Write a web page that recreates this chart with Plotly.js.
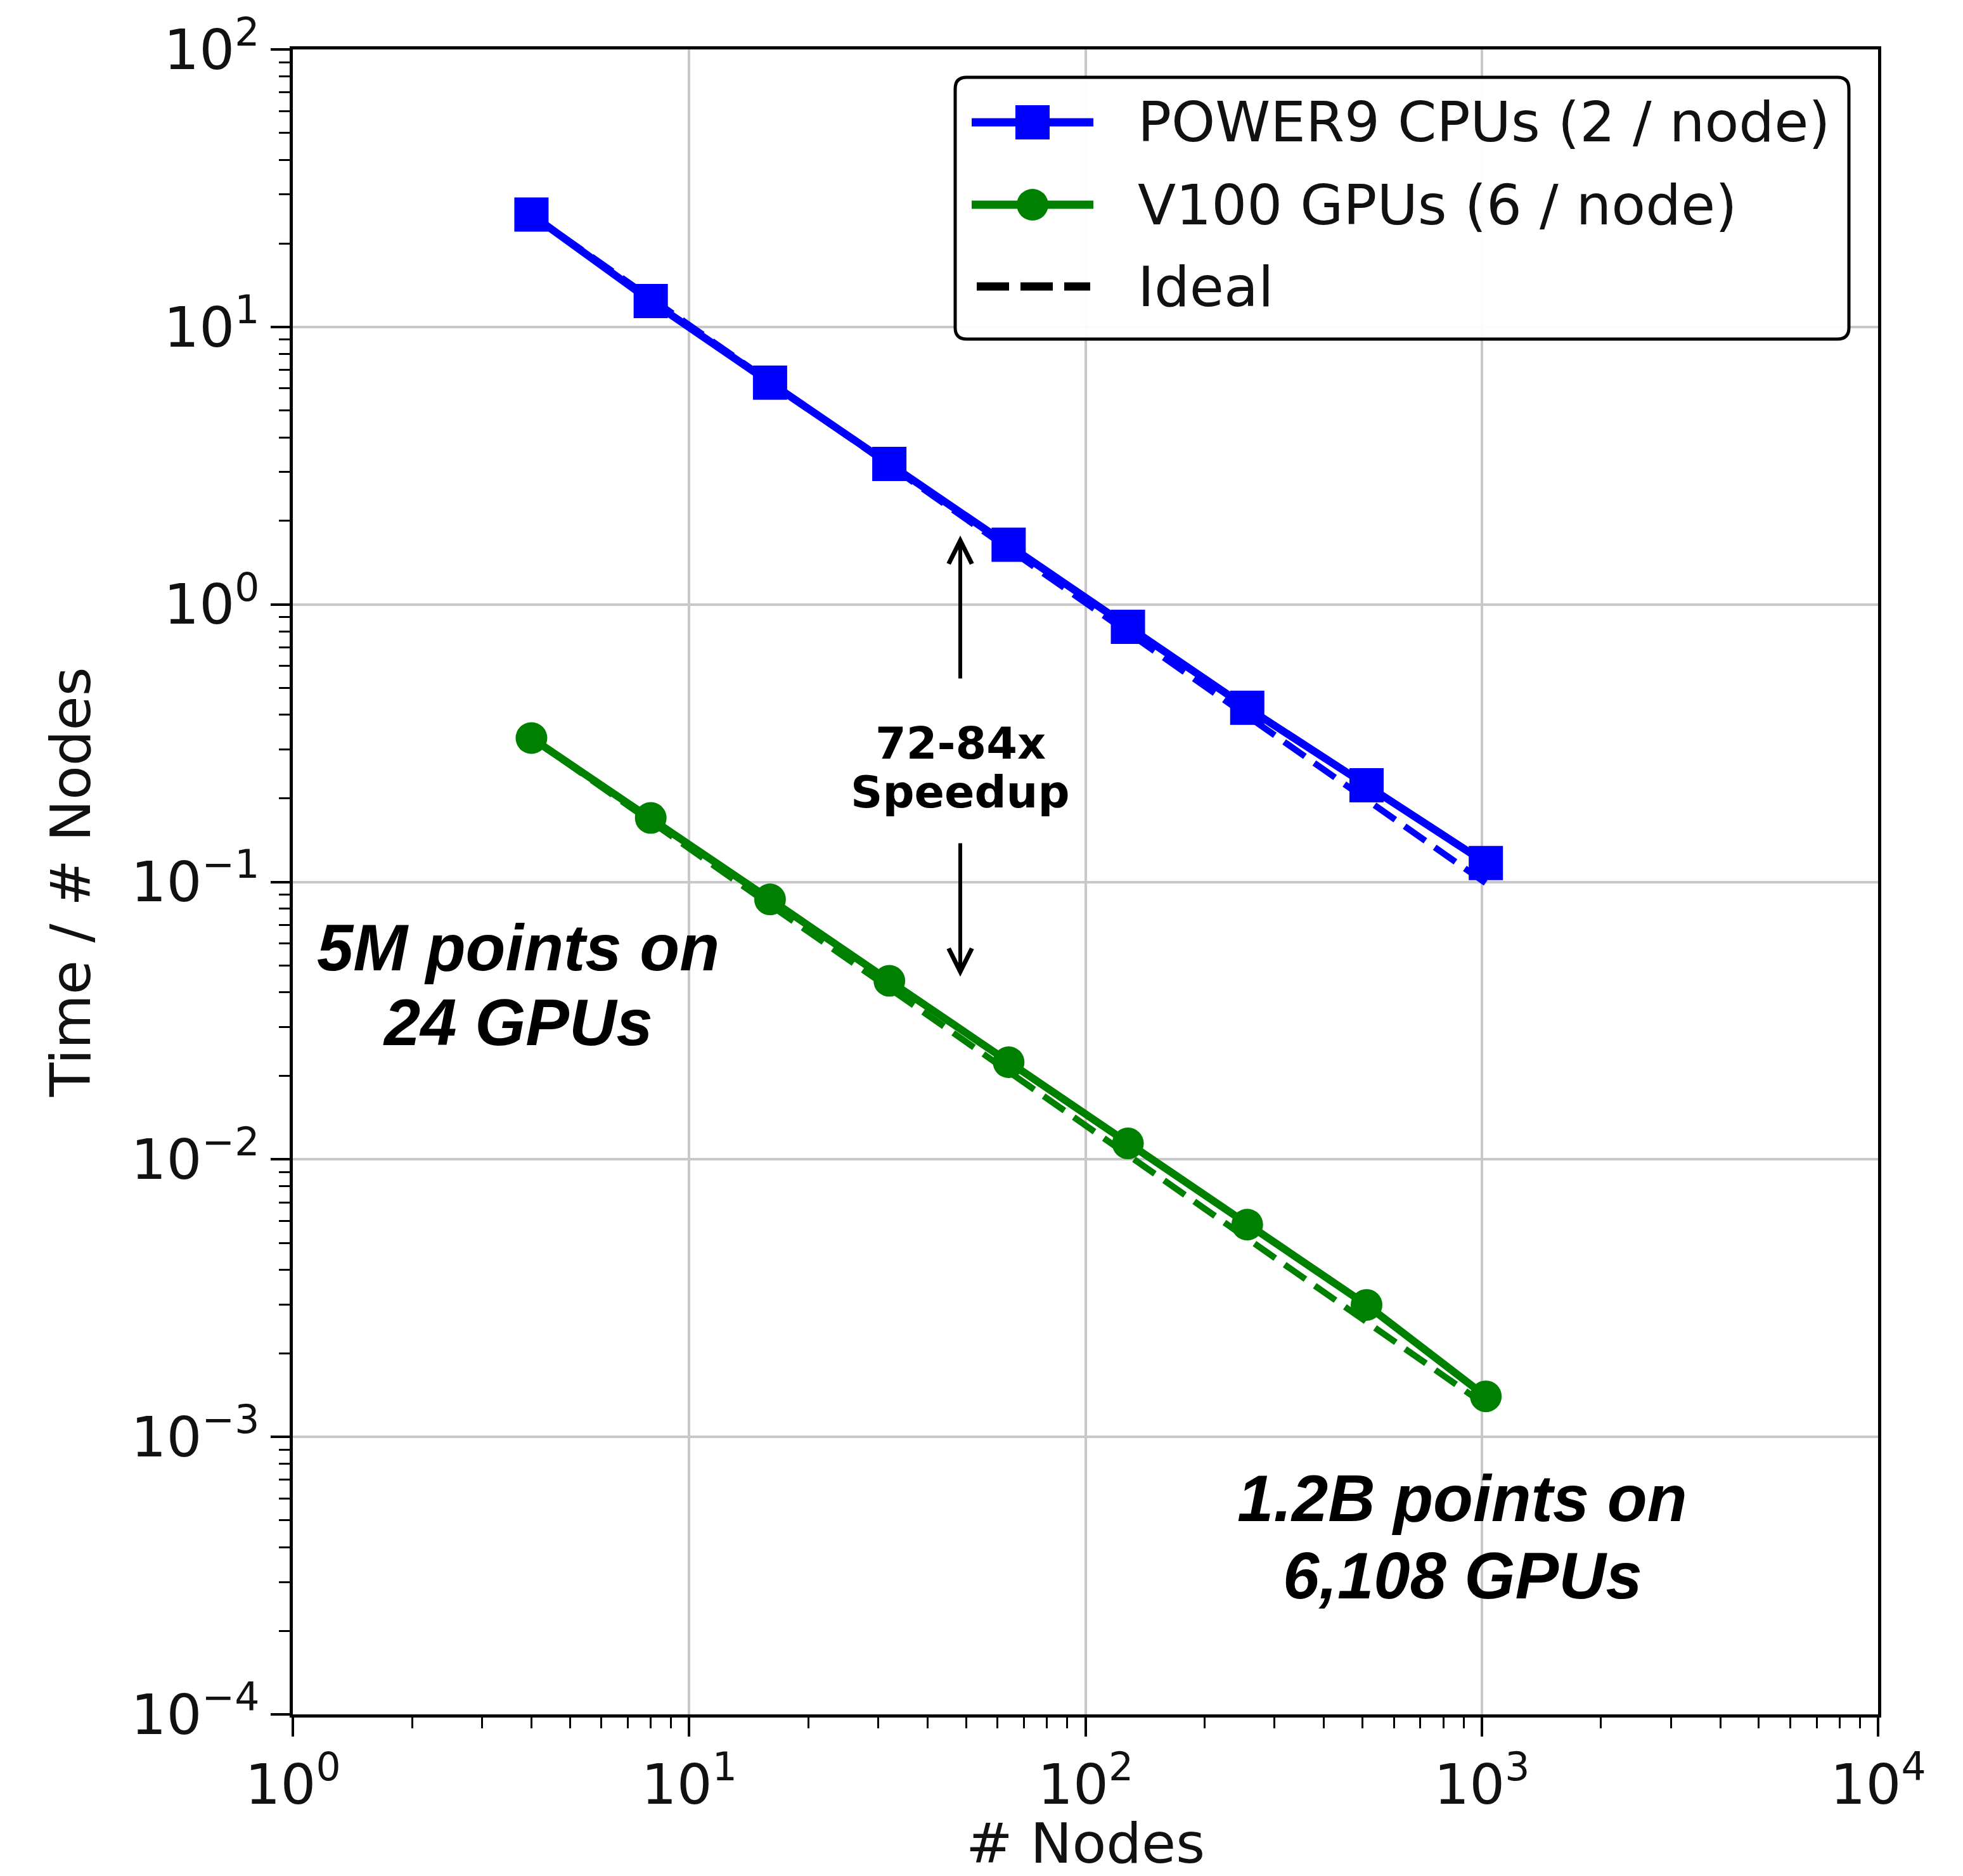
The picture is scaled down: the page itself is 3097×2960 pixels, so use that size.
<!DOCTYPE html>
<html>
<head>
<meta charset="utf-8">
<script src="https://cdn.plot.ly/plotly-3.0.1.min.js"></script>
<style>html,body{margin:0;padding:0;background:#fff;overflow:hidden}</style>
</head>
<body>
<div id="chart" style="width:3097px;height:2960px"></div>
<script>
// ---- data ----
const nodes = [4, 8, 16, 32, 64, 128, 256, 512, 1024];
const cpuTime = [25.4, 12.4, 6.3, 3.21, 1.64, 0.83, 0.424, 0.223, 0.117];
const gpuTime = [0.330, 0.170, 0.0865, 0.044, 0.0224, 0.01142, 0.00582, 0.00299, 0.00140];
const idealNodes = [4, 1024];
const cpuIdeal = [25.4, 0.099];
const gpuIdeal = [0.330, 0.0013];
const seriesNames = ['POWER9 CPUs (2 / node)', 'V100 GPUs (6 / node)', 'Ideal'];
const xTickVals = [1, 10, 100, 1000, 10000];
const xTickText = ['10<sup>0</sup>', '10<sup>1</sup>', '10<sup>2</sup>', '10<sup>3</sup>', '10<sup>4</sup>'];
const yTickVals = [1e-4, 1e-3, 1e-2, 1e-1, 1, 10, 100];
const yTickText = ['10<sup>\u22124</sup>', '10<sup>\u22123</sup>', '10<sup>\u22122</sup>', '10<sup>\u22121</sup>', '10<sup>0</sup>', '10<sup>1</sup>', '10<sup>2</sup>'];
const xTitle = '# Nodes';
const yTitle = 'Time / # Nodes';
const speedupLines = ['72-84x', 'Speedup'];
const smallLabel = ['5M points on', '24 GPUs'];
const bigLabel = ['1.2B points on', '6,108 GPUs'];

// ---- style / layout constants ----
const W = 3097, H = 2960;
const L = 462, R = 2963, T = 78, B = 2705;
const X = p => (p - L) / (R - L);
const Y = p => 1 - (p - T) / (B - T);
const BLUE = '#0000ff', GREEN = '#008000';
const FONT = 'DejaVu Sans, Verdana, sans-serif';
const ARIAL = 'Liberation Sans, Arial, sans-serif';

function minorVals(lo, hi) {
  const v = [];
  for (let e = lo; e < hi; e++) for (let m = 2; m <= 9; m++) v.push(m * Math.pow(10, e));
  return v;
}

function axisBase() {
  return {
    type: 'log', tickmode: 'array', ticks: 'outside', ticklen: 30, tickwidth: 4, tickcolor: '#000',
    showline: true, linewidth: 5, linecolor: '#000', mirror: true,
    showgrid: true, gridcolor: '#c8c8c8', gridwidth: 4, zeroline: false,
    tickfont: {family: FONT, size: 88, color: '#111'}, automargin: false
  };
}

const xaxis = Object.assign(axisBase(), {
  range: [0, 4], tickvals: xTickVals, ticktext: xTickText,
  minor: {tickmode: 'array', tickvals: minorVals(0, 4), ticks: 'outside', ticklen: 17, tickwidth: 3, tickcolor: '#000', showgrid: false},
  title: {text: xTitle, font: {family: FONT, size: 88, color: '#111'}, standoff: 50}
});
const yaxis = Object.assign(axisBase(), {
  range: [-4, 2], tickvals: yTickVals, ticktext: yTickText,
  minor: {tickmode: 'array', tickvals: minorVals(-4, 2), ticks: 'outside', ticklen: 17, tickwidth: 3, tickcolor: '#000', showgrid: false},
  title: {text: yTitle, font: {family: FONT, size: 88, color: '#111'}, standoff: 36}
});

const traces = [
  {x: idealNodes, y: cpuIdeal, mode: 'lines', name: seriesNames[2] + ' (CPU)', line: {color: BLUE, width: 10, dash: '40px,18px'}},
  {x: idealNodes, y: gpuIdeal, mode: 'lines', name: seriesNames[2] + ' (GPU)', line: {color: GREEN, width: 10, dash: '40px,18px'}},
  {x: nodes, y: cpuTime, mode: 'lines+markers', name: seriesNames[0], line: {color: BLUE, width: 12},
   marker: {symbol: 'square', size: 54, color: BLUE, line: {width: 0}}},
  {x: nodes, y: gpuTime, mode: 'lines+markers', name: seriesNames[1], line: {color: GREEN, width: 12},
   marker: {symbol: 'circle', size: 50, color: GREEN, line: {width: 0}}}
];

// ---- hand-drawn matplotlib-style legend ----
function roundRect(x0, y0, x1, y1, r) {
  const P = (x, y) => X(x) + ',' + Y(y);
  return 'M' + P(x0 + r, y0) + ' L' + P(x1 - r, y0) + ' Q' + P(x1, y0) + ' ' + P(x1, y0 + r) +
    ' L' + P(x1, y1 - r) + ' Q' + P(x1, y1) + ' ' + P(x1 - r, y1) +
    ' L' + P(x0 + r, y1) + ' Q' + P(x0, y1) + ' ' + P(x0, y1 - r) +
    ' L' + P(x0, y0 + r) + ' Q' + P(x0, y0) + ' ' + P(x0 + r, y0) + ' Z';
}
const legBox = {x0: 1507, y0: 122, x1: 2917, y1: 535};
const rowY = [193, 323, 452];
const hx0 = 1533, hx1 = 1725, hxc = 1629, textX = 1793;
const pr = {xref: 'paper', yref: 'paper', layer: 'above'};

const shapes = [
  Object.assign({type: 'path', path: roundRect(legBox.x0, legBox.y0, legBox.x1, legBox.y1, 18),
    fillcolor: 'rgba(255,255,255,0.95)', line: {color: '#000', width: 5}}, pr),
  Object.assign({type: 'line', x0: X(hx0), x1: X(hx1), y0: Y(rowY[0]), y1: Y(rowY[0]), line: {color: BLUE, width: 13}}, pr),
  Object.assign({type: 'rect', x0: X(hxc - 27), x1: X(hxc + 27), y0: Y(rowY[0] - 27), y1: Y(rowY[0] + 27), fillcolor: BLUE, line: {width: 0}}, pr),
  Object.assign({type: 'line', x0: X(hx0), x1: X(hx1), y0: Y(rowY[1]), y1: Y(rowY[1]), line: {color: GREEN, width: 13}}, pr),
  Object.assign({type: 'circle', x0: X(hxc - 25), x1: X(hxc + 25), y0: Y(rowY[1] - 25), y1: Y(rowY[1] + 25), fillcolor: GREEN, line: {width: 0}}, pr),
  Object.assign({type: 'line', x0: X(1541), x1: X(1720), y0: Y(rowY[2]), y1: Y(rowY[2]), line: {color: '#000', width: 13, dash: '51px,18px'}}, pr)
];

const annotations = [];
seriesNames.forEach((n, i) => annotations.push({
  xref: 'paper', yref: 'paper', x: X(textX), y: Y(rowY[i]), xanchor: 'left', yanchor: 'middle',
  text: n, showarrow: false, font: {family: FONT, size: 88, color: '#111'}
}));
function textAnn(t, cx, cy, font) {
  annotations.push({xref: 'paper', yref: 'paper', x: X(cx), y: Y(cy), xanchor: 'center', yanchor: 'middle',
    text: t, showarrow: false, font: font});
}
const boldFont = {family: FONT, size: 70, color: '#000'};
textAnn('<b>' + speedupLines[0] + '</b>', 1515, 1173, boldFont);
textAnn('<b>' + speedupLines[1] + '</b>', 1515, 1250, boldFont);
const biFont = {family: ARIAL, size: 103, color: '#000'};
textAnn('<b><i>' + smallLabel[0] + '</i></b>', 817, 1495, biFont);
textAnn('<b><i>' + smallLabel[1] + '</i></b>', 817, 1613, biFont);
textAnn('<b><i>' + bigLabel[0] + '</i></b>', 2307, 2364, biFont);
textAnn('<b><i>' + bigLabel[1] + '</i></b>', 2307, 2486, biFont);
// arrows
annotations.push({xref: 'paper', yref: 'paper', x: X(1515), y: Y(845), axref: 'pixel', ayref: 'pixel', ax: 0, ay: 227,
  text: '', showarrow: true, arrowhead: 5, arrowsize: 1.2, arrowwidth: 6, arrowcolor: '#000'});
annotations.push({xref: 'paper', yref: 'paper', x: X(1515), y: Y(1541), axref: 'pixel', ayref: 'pixel', ax: 0, ay: -212,
  text: '', showarrow: true, arrowhead: 5, arrowsize: 1.2, arrowwidth: 6, arrowcolor: '#000'});

const layout = {
  width: W, height: H,
  margin: {l: L, r: W - R, t: T, b: H - B, pad: 0},
  paper_bgcolor: '#fff', plot_bgcolor: '#fff',
  showlegend: false,
  xaxis: xaxis, yaxis: yaxis,
  shapes: shapes, annotations: annotations
};

Plotly.newPlot('chart', traces, layout, {staticPlot: true, displayModeBar: false});
</script>
</body>
</html>
